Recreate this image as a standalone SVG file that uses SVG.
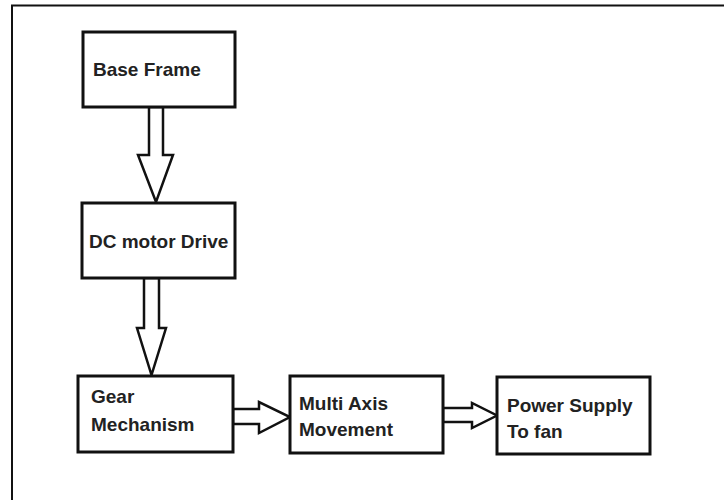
<svg xmlns="http://www.w3.org/2000/svg" width="724" height="500" viewBox="0 0 724 500">
<style>
.box{fill:#fff;stroke:#111;stroke-width:3}
.arr{fill:#fff;stroke:#111;stroke-width:2.5;stroke-linejoin:miter}
.t{font-family:"Liberation Sans",Arial,sans-serif;font-weight:bold;font-size:19px;fill:#222}
</style>
<rect width="724" height="500" fill="#fff"/>
<path d="M12,500 V5.5 H724" fill="none" stroke="#111" stroke-width="2"/>
<g id="connectors">
<polygon class="arr" points="149,107 163,107 163,155 173,155 156,202 138,155 149,155"/>
<polygon class="arr" points="144,278 159,278 159,328 166,328 151.5,375 137,328 144,328"/>
<polygon class="arr" points="233,409 259,409 259,402 290,417 259,433 259,424 233,424"/>
<polygon class="arr" points="443,408 472,408 472,403 497,415.5 472,428 472,422 443,422"/>
</g>
<g id="base-frame">
<rect class="box" x="83" y="32" width="152" height="75"/>
<text class="t" x="93" y="76">Base Frame</text>
</g>
<g id="dc-motor-drive">
<rect class="box" x="82" y="203" width="153" height="75"/>
<text class="t" x="89" y="248">DC motor Drive</text>
</g>
<g id="gear-mechanism">
<rect class="box" x="78" y="376" width="155" height="76"/>
<text class="t" x="91" y="403">Gear</text>
<text class="t" x="91" y="431">Mechanism</text>
</g>
<g id="multi-axis-movement">
<rect class="box" x="290" y="376" width="153" height="77"/>
<text class="t" x="299" y="410">Multi Axis</text>
<text class="t" x="299" y="436">Movement</text>
</g>
<g id="power-supply">
<rect class="box" x="497" y="377" width="153" height="77"/>
<text class="t" x="507" y="412">Power Supply</text>
<text class="t" x="507" y="438">To fan</text>
</g>
</svg>
